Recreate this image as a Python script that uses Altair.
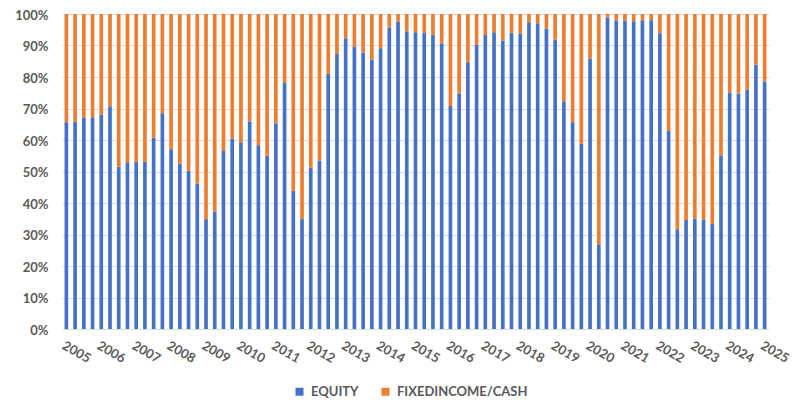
import altair as alt
import pandas as pd

years = list(range(2005, 2026))
quarters = [f"{y}Q{q}" for y in range(2005, 2025) for q in range(1, 5)] + ["2025Q1"]

equity = [
    65.6, 65.8, 67.0, 67.2, 68.1, 70.7, 51.6, 52.9, 53.1, 53.1, 60.8, 68.5,
    57.1, 52.5, 50.3, 46.2, 34.9, 37.2, 56.5, 60.5, 59.3, 65.9, 58.3, 55.0,
    65.3, 78.1, 43.9, 35.0, 51.2, 53.5, 81.0, 87.3, 92.3, 89.7, 87.8, 85.5,
    89.1, 95.7, 97.6, 94.5, 94.2, 94.0, 93.3, 90.7, 70.8, 74.8, 84.7, 90.2,
    93.3, 94.2, 91.6, 94.0, 93.8, 97.4, 97.1, 95.4, 91.9, 72.3, 65.6, 58.9,
    85.9, 26.9, 98.9, 97.9, 97.9, 97.7, 98.0, 98.0, 93.9, 62.9, 31.7, 34.6,
    35.1, 34.7, 33.3, 55.1, 75.0, 74.8, 76.0, 83.9, 78.6,
]
fixed_income = [round(100 - e, 1) for e in equity]

series = ["EQUITY", "FIXEDINCOME/CASH"]
colors = ["#4472C4", "#ED7D31"]

rows = []
for q, e, f in zip(quarters, equity, fixed_income):
    rows.append({"period": q, "series": series[0], "value": e / 100, "ord": 0})
    rows.append({"period": q, "series": series[1], "value": f / 100, "ord": 1})
df = pd.DataFrame(rows)

font = "Lato"
grey = "#595959"

chart = alt.Chart(df).mark_bar().encode(
    x=alt.X(
        "period:N",
        sort=quarters,
        scale=alt.Scale(paddingInner=0.58, paddingOuter=0.29),
        axis=alt.Axis(
            title=None,
            values=[f"{y}Q1" for y in years],
            labelExpr="slice(datum.label, 0, 4)",
            labelAngle=30,
            labelAlign="left",
            labelBaseline="top",
            labelPadding=10,
            ticks=False,
            domain=True,
            domainColor="#D9D9D9",
            labelColor=grey,
            labelFont=font,
            labelFontSize=13,
            labelFontWeight="bold",
            labelOverlap=False,
            grid=False,
        ),
    ),
    y=alt.Y(
        "value:Q",
        stack="zero",
        scale=alt.Scale(domain=[0, 1]),
        axis=alt.Axis(
            title=None,
            format=".0%",
            values=[i / 10 for i in range(11)],
            ticks=False,
            domain=False,
            grid=True,
            gridColor="#D9D9D9",
            labelColor=grey,
            labelFont=font,
            labelFontSize=13,
            labelFontWeight="bold",
            labelPadding=14,
            labelOffset=1,
        ),
    ),
    color=alt.Color(
        "series:N",
        scale=alt.Scale(domain=series, range=colors),
        legend=alt.Legend(
            title=None,
            orient="none",
            direction="horizontal",
            legendX=231,
            legendY=371,
            symbolType="square",
            symbolSize=64,
            symbolStrokeWidth=0,
            labelColor=grey,
            labelFont=font,
            labelFontSize=13,
            labelFontWeight="bold",
            labelOffset=5,
            columnPadding=20,
        ),
    ),
    order=alt.Order("ord:Q"),
).properties(
    width=707,
    height=315,
    autosize=alt.AutoSizeParams(type="none"),
    padding={"left": 54, "top": 6, "right": 22, "bottom": 71},
).configure_view(stroke=None)

chart.save("out.html", embed_options={"renderer": "svg", "actions": False})
